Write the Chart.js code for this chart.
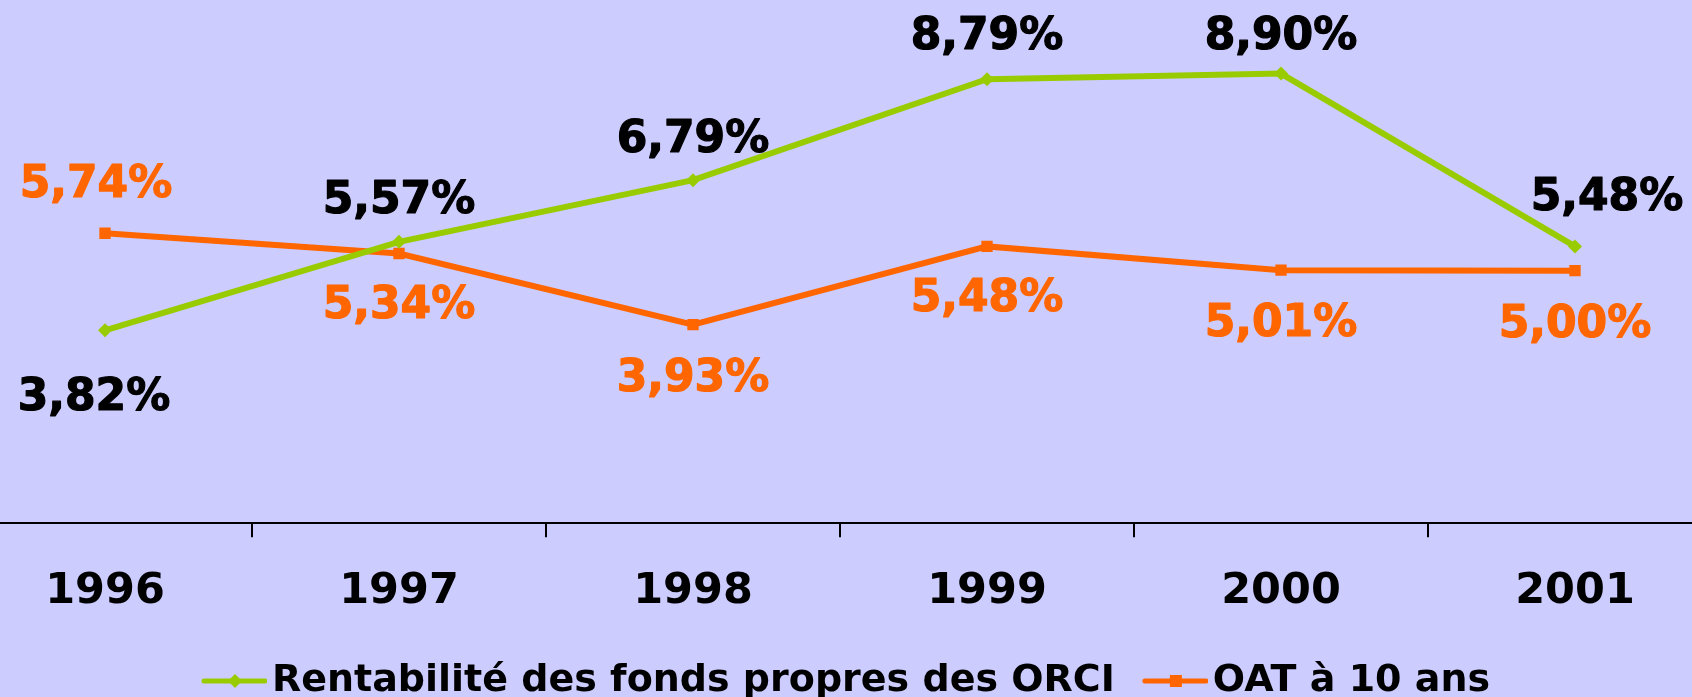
<!DOCTYPE html>
<html>
<head>
<meta charset="utf-8">
<script src="https://cdn.jsdelivr.net/npm/chart.js@4/dist/chart.umd.min.js"></script>
<style>
html,body{margin:0;padding:0;width:1692px;height:697px;overflow:hidden;background:#CCCCFF;}
#wrap{position:absolute;left:-50px;top:0;width:1780px;height:710px;}
</style>
</head>
<body>
<div id="wrap"><canvas id="chart"></canvas></div>
<script>

// data
let years = ["1996","1997","1998","1999","2000","2001"];
let rentabilite = [3.82,5.57,6.79,8.79,8.90,5.48];
let oat = [5.74,5.34,3.93,5.48,5.01,5.00];
let seriesNames = ["Rentabilité des fonds propres des ORCI","OAT à 10 ans"];

let green = "#99CC00";
let orange = "#FF6600";

function formatPct(v){
return v.toFixed(2).replace(".",",")+"%";
}

/* legend markers : line with symbol, drawn on the right part of the image */
function makeMarker(color, shape){
let c = document.createElement("canvas");
c.width = 91;
c.height = 16;
let ctx = c.getContext("2d");
ctx.strokeStyle = color;
ctx.lineWidth = 5;
ctx.lineCap = "round";
ctx.beginPath();
ctx.moveTo(28,8);
ctx.lineTo(89,8);
ctx.stroke();
ctx.fillStyle = color;
ctx.beginPath();
if(shape=="diamond"){
ctx.moveTo(59,1);ctx.lineTo(66,8);ctx.lineTo(59,15);ctx.lineTo(52,8);
}else{
ctx.rect(53,2,12,12);
}
ctx.closePath();
ctx.fill();
return c;
}
let markers = [makeMarker(green,"diamond"), makeMarker(orange,"square")];

/* value labels next to the points */
let pointLabels = {
id:"pointLabels",
afterDatasetsDraw:function(chart){
let ctx = chart.ctx;
ctx.save();
ctx.font = "bold 44px 'DejaVu Sans'";
ctx.textAlign = "center";
ctx.textBaseline = "alphabetic";
ctx.lineWidth = 1.2;
ctx.lineJoin = "round";
chart.data.datasets.forEach(function(ds,i){
let meta = chart.getDatasetMeta(i);
meta.data.forEach(function(pt,j){
let txt = formatPct(ds.data[j]);
let x = pt.x + ds.labelDx[j];
let y = pt.y + ds.labelDy[j] + 16;
ctx.fillStyle = ds.labelColor;
ctx.strokeStyle = ds.labelColor;
ctx.fillText(txt, x, y);
ctx.strokeText(txt, x, y);
});
});
ctx.restore();
}
};

new Chart(document.getElementById("chart"),{
type:"line",
data:{
labels:years,
datasets:[{
label:seriesNames[0],
data:rentabilite,
borderColor:green,
backgroundColor:green,
borderWidth:6,
pointStyle:"rectRot",
pointRadius:7,
pointBorderWidth:0,
tension:0,
fill:false,
labelColor:"#000000",
labelDx:[-11,0,0,0,0,32],
labelDy:[64,-45,-44,-46,-41,-52]
},{
label:seriesNames[1],
data:oat,
borderColor:orange,
backgroundColor:orange,
borderWidth:6,
pointStyle:"rect",
pointRadius:8,
pointBorderWidth:0,
tension:0,
fill:false,
labelColor:orange,
labelDx:[-9,0,0,0,0,0],
labelDy:[-52,49,50,49,50,50]
}]
},
options:{
responsive:true,
maintainAspectRatio:false,
animation:false,
layout:{padding:{top:18,left:0,right:0,bottom:0}},
plugins:{
legend:{
position:"bottom",
labels:{
color:"#000000",
font:{family:"'DejaVu Sans'",weight:"bold",size:38},
usePointStyle:true,
pointStyleWidth:63,
padding:16,
generateLabels:function(chart){
let items = Chart.defaults.plugins.legend.labels.generateLabels(chart);
items.forEach(function(it,i){ it.pointStyle = markers[i]; });
return items;
}
}
},
tooltip:{enabled:false}
},
scales:{
y:{
display:false,
min:0,
max:10
},
x:{
offset:true,
border:{display:true,color:"#000000",width:2},
grid:{
offset:true,
drawOnChartArea:false,
drawTicks:true,
tickLength:14,
color:"#000000",
lineWidth:2
},
ticks:{
color:"#000000",
padding:35,
font:{family:"'DejaVu Sans'",weight:"bold",size:43,lineHeight:0.9}
}
}
}
},
plugins:[pointLabels]
});
</script>
</body>
</html>
